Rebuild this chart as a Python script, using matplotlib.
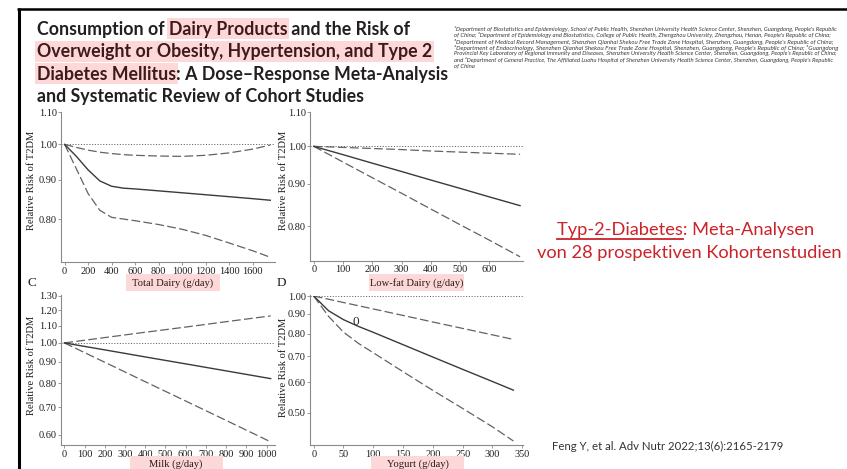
import matplotlib
matplotlib.use('Agg')
import matplotlib.pyplot as plt
from matplotlib.patches import Rectangle
from matplotlib.lines import Line2D
from matplotlib.ticker import NullLocator, FixedLocator, FixedFormatter

plt.rcParams['font.family'] = ['Liberation Serif', 'DejaVu Serif']
plt.rcParams['lines.scale_dashes'] = False

W, H, DPI = 847, 469, 100

# ---------------- data ----------------
total_dose = [0, 100, 200, 300, 400, 500, 600, 800, 1000, 1200, 1400, 1600, 1750]
total_rr = [1.000, 0.965, 0.927, 0.897, 0.883, 0.878, 0.876, 0.871, 0.866, 0.861, 0.856, 0.851, 0.847]
total_lo = [1.000, 0.930, 0.864, 0.822, 0.805, 0.801, 0.797, 0.788, 0.777, 0.763, 0.746, 0.729, 0.715]
total_hi = [1.000, 0.991, 0.983, 0.977, 0.973, 0.970, 0.968, 0.966, 0.965, 0.968, 0.975, 0.986, 0.998]

lowfat_dose = [0, 100, 200, 300, 400, 500, 600, 705]
lowfat_rr = [1.000, 0.977, 0.954, 0.932, 0.910, 0.889, 0.868, 0.847]
lowfat_lo = [1.000, 0.957, 0.916, 0.877, 0.839, 0.803, 0.769, 0.734]
lowfat_hi = [1.000, 0.997, 0.994, 0.991, 0.987, 0.984, 0.981, 0.978]

milk_dose = [0, 200, 400, 600, 800, 1020]
milk_rr = [1.000, 0.962, 0.925, 0.890, 0.856, 0.820]
milk_lo = [1.000, 0.898, 0.806, 0.724, 0.650, 0.577]
milk_hi = [1.000, 1.030, 1.061, 1.092, 1.125, 1.162]

yog_dose = [0, 25, 50, 75, 100, 150, 200, 250, 300, 335]
yog_rr = [1.000, 0.916, 0.869, 0.835, 0.806, 0.749, 0.696, 0.647, 0.602, 0.572]
yog_lo = [1.000, 0.886, 0.807, 0.755, 0.714, 0.638, 0.571, 0.513, 0.460, 0.423]
yog_hi = [1.000, 0.981, 0.962, 0.944, 0.926, 0.891, 0.857, 0.825, 0.794, 0.773]

total_xticks = [0, 200, 400, 600, 800, 1000, 1200, 1400, 1600]
lowfat_xticks = [0, 100, 200, 300, 400, 500, 600]
milk_xticks = [0, 100, 200, 300, 400, 500, 600, 700, 800, 900, 1000]
yog_xticks = [0, 50, 100, 150, 200, 250, 300, 350]
ab_yticks = [0.80, 0.90, 1.00, 1.10]
milk_yticks = [0.60, 0.70, 0.80, 0.90, 1.00, 1.10, 1.20, 1.30]
yog_yticks = [0.50, 0.60, 0.70, 0.80, 0.90, 1.00]

xlabels = ["Total Dairy (g/day)", "Low-fat Dairy (g/day)", "Milk (g/day)", "Yogurt (g/day)"]
ylabel = "Relative Risk of T2DM"

title_lines = [
    [("Consumption of ", False), ("Dairy Products", True), (" and the Risk of", False)],
    [("Overweight or Obesity, Hypertension, and Type 2", True)],
    [("Diabetes Mellitus", True), (": A Dose\u2013Response Meta-Analysis", False)],
    [("and Systematic Review of Cohort Studies", False)],
]

affil_lines = [
    "\u00b9Department of Biostatistics and Epidemiology, School of Public Health, Shenzhen University Health Science Center, Shenzhen, Guangdong, People's Republic",
    "of China; \u00b2Department of Epidemiology and Biostatistics, College of Public Health, Zhengzhou University, Zhengzhou, Henan, People's Republic of China;",
    "\u00b3Department of Medical Record Management, Shenzhen Qianhai Shekou Free Trade Zone Hospital, Shenzhen, Guangdong, People's Republic of China;",
    "\u2074Department of Endocrinology, Shenzhen Qianhai Shekou Free Trade Zone Hospital, Shenzhen, Guangdong, People's Republic of China; \u2075Guangdong",
    "Provincial Key Laboratory of Regional Immunity and Diseases, Shenzhen University Health Science Center, Shenzhen, Guangdong, People's Republic of China;",
    "and \u2076Department of General Practice, The Affiliated Luohu Hospital of Shenzhen University Health Science Center, Shenzhen, Guangdong, People's Republic",
    "of China",
]

note_underlined = "Typ-2-Diabetes"
note_line1_rest = ": Meta-Analysen"
note_line2 = "von 28 prospektiven Kohortenstudien"
citation = "Feng Y, et al. Adv Nutr 2022;13(6):2165-2179"

# ---------------- figure ----------------
fig = plt.figure(figsize=(W / DPI, H / DPI), dpi=DPI)
fig.patch.set_facecolor('white')
R = fig.canvas.get_renderer()


def fx(px):
    return px / W


def fy(py):
    return 1 - py / H


def text_w(s, **kw):
    t = fig.text(0, 0, s, **kw)
    w = t.get_window_extent(R).width
    t.remove()
    return w


PINK = '#fdd8d8'

# slide frame
fig.add_artist(Line2D([fx(18.8), fx(18.8)], [fy(8.0), fy(H + 2)], color='black', lw=2.2,
                      solid_capstyle='butt'))
fig.add_artist(Line2D([fx(17.3), fx(W + 2)], [fy(9.5), fy(9.5)], color='black', lw=1.8,
                      solid_capstyle='butt'))

# ---------------- title ----------------
tkw = dict(family=['Lato', 'DejaVu Sans'], fontweight='bold')
base = 12
w3 = text_w("Diabetes Mellitus: A Dose\u2013Response Meta-Analysis", fontsize=base, **tkw)
tsize = base * 406.0 / w3
tkw['fontsize'] = tsize
title_x0 = 36.7
baselines = [35.3, 57.5, 79.7, 101.8]
wI = text_w("I", **tkw)
for runs, yb in zip(title_lines, baselines):
    prefix = ""
    for txt, hl in runs:
        x = title_x0 + (text_w(prefix + "I", **tkw) - wI if prefix else 0)
        col = '#3e1a1c' if hl else '#231f20'
        t = fig.text(fx(x), fy(yb), txt, ha='left', va='baseline', color=col, zorder=3, **tkw)
        if hl:
            bb = t.get_window_extent(R)
            fig.add_artist(Rectangle((fx(bb.x0 - 2), fy(yb + 4.2)), (bb.width + 4) / W, 21.0 / H,
                                     transform=fig.transFigure, facecolor=PINK,
                                     edgecolor='none', zorder=1))
        prefix += txt

# ---------------- affiliations ----------------
akw = dict(family=['Lato', 'DejaVu Sans'], style='italic', color='#3a3a3a')
target_w = 388.0
sizes = []
for i, line in enumerate(affil_lines[:-1]):
    w = text_w(line, fontsize=5, **akw)
    sizes.append(5 * target_w / w)
sizes.append(sum(sizes) / len(sizes))
for i, line in enumerate(affil_lines):
    fig.text(fx(453.5), fy(29.3 + 6.12 * i), line, ha='left', va='center', fontsize=sizes[i], **akw)

# ---------------- red note ----------------
RED = '#cc2229'
nkw = dict(family=['Lato', 'DejaVu Sans'], color=RED)
w2 = text_w(note_line2, fontsize=12, **nkw)
nsize = 12 * 304.0 / w2
t1 = fig.text(fx(686), fy(235.0), note_underlined + note_line1_rest, ha='center', va='baseline',
              fontsize=nsize, **nkw)
fig.text(fx(689.5), fy(257.7), note_line2, ha='center', va='baseline', fontsize=nsize, **nkw)
bb1 = t1.get_window_extent(R)
uw = text_w(note_underlined, fontsize=nsize, **nkw)
fig.add_artist(Line2D([fx(bb1.x0), fx(bb1.x0 + uw)], [fy(238.8), fy(238.8)], color=RED, lw=1.3))

# citation
ckw = dict(family=['Lato', 'DejaVu Sans'], color='#333333')
wc = text_w(citation, fontsize=8, **ckw)
fig.text(fx(551.7), fy(450.0), citation, ha='left', va='baseline', fontsize=8 * 231.0 / wc, **ckw)

# ---------------- panels ----------------
SOLID = '#3a3a3a'
DASH = '#626262'
SPINE = '#8a8a8a'


def panel(rect, dose, rr, lo, hi, xlim, ylim, xticks, yticks):
    l, t, r, b = rect
    ax = fig.add_axes([fx(l), fy(b), (r - l) / W, (b - t) / H])
    ax.patch.set_alpha(0)
    ax.set_yscale('log')
    ax.axhline(1.0, color='#666666', lw=0.7, dashes=(0.8, 1.2))
    ax.plot(dose, hi, color=DASH, lw=0.9, dashes=(6.3, 2.4))
    ax.plot(dose, lo, color=DASH, lw=0.9, dashes=(6.3, 2.4))
    ax.plot(dose, rr, color=SOLID, lw=1.0)
    ax.set_xlim(*xlim)
    ax.set_ylim(*ylim)
    ax.yaxis.set_major_locator(FixedLocator(yticks))
    ax.yaxis.set_major_formatter(FixedFormatter(['%.2f' % v for v in yticks]))
    ax.yaxis.set_minor_locator(NullLocator())
    ax.set_xticks(xticks)
    ax.set_xticklabels([str(v) for v in xticks])
    for s in ['top', 'right']:
        ax.spines[s].set_visible(False)
    for s in ['left', 'bottom']:
        ax.spines[s].set_color(SPINE)
        ax.spines[s].set_linewidth(0.8)
    ax.tick_params(axis='both', length=2.3, width=0.6, color=SPINE, labelsize=7.4,
                   labelcolor='#1e1e1e')
    ax.tick_params(axis='y', pad=0.8)
    ax.tick_params(axis='x', pad=1.0)
    return ax


axA = panel((61, 112.3, 275, 262), total_dose, total_rr, total_lo, total_hi,
            (-30.6, 1790), (0.705, 1.10), total_xticks, ab_yticks)
axB = panel((310, 112.3, 523.3, 260.7), lowfat_dose, lowfat_rr, lowfat_lo, lowfat_hi,
            (-12.6, 716), (0.726, 1.10), lowfat_xticks, ab_yticks)
axC = panel((61, 295.0, 275, 445), milk_dose, milk_rr, milk_lo, milk_hi,
            (-16.3, 1041.5), (0.567, 1.305), milk_xticks, milk_yticks)
axD = panel((310, 295.5, 523.3, 445), yog_dose, yog_rr, yog_lo, yog_hi,
            (-6.2, 351.7), (0.413, 1.003), yog_xticks, yog_yticks)
axD.text(70.5, 0.858, '0', ha='center', va='center', fontsize=9.5, color='#2a2a2a')

# y labels
for (xp, yp) in [(31.7, 180), (284, 180), (31.7, 365.5), (283.5, 367.5)]:
    fig.text(fx(xp), fy(yp), ylabel, rotation=90, ha='center', va='center', fontsize=7.6,
             color='#1e1e1e')

# x labels with pink boxes
for lab, (cx, cy), (bx0, by0, bx1, by1) in zip(
        xlabels,
        [(173, 282.7), (416.7, 282.7), (176, 464.3), (417.5, 464.3)],
        [(126, 273.5, 220, 290.5), (369, 273.5, 464, 290.5),
         (130, 455.5, 223.3, 472), (370.7, 455.5, 464.3, 472)]):
    fig.add_artist(Rectangle((fx(bx0), fy(by1)), (bx1 - bx0) / W, (by1 - by0) / H,
                             transform=fig.transFigure, facecolor=PINK, edgecolor='none',
                             zorder=1))
    fig.text(fx(cx), fy(cy), lab, ha='center', va='center', fontsize=7.6, color='#2a1a1a',
             zorder=3)

# panel letters
fig.text(fx(31.7), fy(282.7), 'C', ha='center', va='center', fontsize=9.5, color='#1e1e1e')
fig.text(fx(281.7), fy(282.7), 'D', ha='center', va='center', fontsize=9.5, color='#1e1e1e')

fig.savefig('out.png', dpi=DPI, facecolor='white')
